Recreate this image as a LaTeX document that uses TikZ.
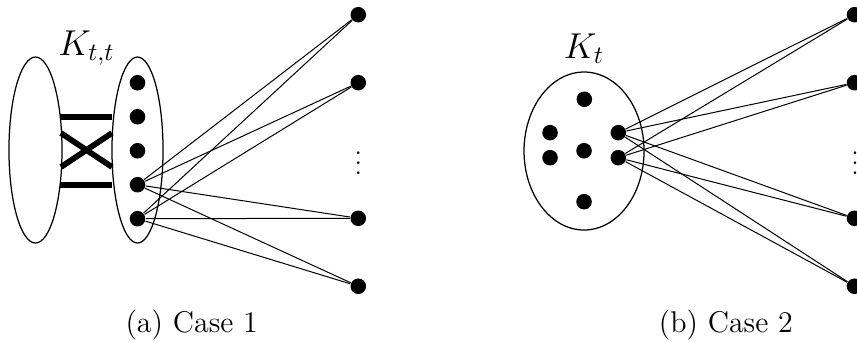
\documentclass[tikz,border=0pt]{standalone}
\usepackage{amsmath,amssymb}
\usepackage{tikz}
\usetikzlibrary{positioning,calc}
\tikzset{
  dot/.style={circle,fill=black,inner sep=2.2pt},
  part/.style={draw=black,line width=0.5pt},
  heavy/.style={draw=black,line width=2.3pt},
  lbl/.style={anchor=base,font=\Large},
  subcap/.style={anchor=base,font=\large},
}

\begin{document}
\begin{tikzpicture}[scale=1]
\useasboundingbox (0,0) rectangle (12.053,4.796);
% case 1
\draw[part] (0.499,2.686) ellipse (0.373 and 1.308);
\draw[part] (1.934,2.686) ellipse (0.359 and 1.308);
\coordinate (l1) at (0.847,3.155);
\coordinate (l2) at (0.857,2.925);
\coordinate (l3) at (0.857,2.447);
\coordinate (l4) at (0.847,2.194);
\coordinate (m1) at (1.575,3.155);
\coordinate (m2) at (1.575,2.925);
\coordinate (m3) at (1.575,2.447);
\coordinate (m4) at (1.575,2.194);
\draw[heavy] (l1)--(m1);
\draw[heavy] (l2)--(m3);
\draw[heavy] (l3)--(m2);
\draw[heavy] (l4)--(m4);
\node[dot] (a1) at (1.934,3.632) {};
\node[dot] (a2) at (1.934,3.154) {};
\node[dot] (a3) at (1.934,2.676) {};
\node[dot] (a4) at (1.934,2.198) {};
\node[dot] (a5) at (1.934,1.720) {};
\node[dot] (p1) at (5.039,4.589) {};
\node[dot] (p2) at (5.039,3.633) {};
\node[dot] (p3) at (5.039,1.726) {};
\node[dot] (p4) at (5.039,0.770) {};
\node (pd) at (5.039,2.600) {$\vdots$};
\draw (a4)--(p1); \draw (a4)--(p2); \draw (a4)--(p3); \draw (a4)--(p4);
\draw (a5)--(p1); \draw (a5)--(p2); \draw (a5)--(p3); \draw (a5)--(p4);
\node[lbl] (ktt) at (1.217,4.022) {$K_{t,t}$};
\node[subcap] (capa) at (2.696,0.113) {(a) Case 1};
% case 2
\draw[part] (8.214,2.672) ellipse (0.844 and 1.111);
\node[dot] (b1) at (8.218,3.400) {};
\node[dot] (b2) at (7.736,2.930) {};
\node[dot] (b3) at (8.214,2.676) {};
\node[dot] (b4) at (7.736,2.578) {};
\node[dot] (b5) at (8.214,1.959) {};
\node[dot] (b6) at (8.696,2.930) {};
\node[dot] (b7) at (8.696,2.578) {};
\node[dot] (q1) at (12.018,4.589) {};
\node[dot] (q2) at (12.018,3.633) {};
\node[dot] (q3) at (12.018,1.726) {};
\node[dot] (q4) at (12.018,0.770) {};
\node (qd) at (12.025,2.600) {$\vdots$};
\draw (b6)--(q1); \draw (b6)--(q2); \draw (b6)--(q3); \draw (b6)--(q4);
\draw (b7)--(q1); \draw (b7)--(q2); \draw (b7)--(q3); \draw (b7)--(q4);
\node[lbl] (kt) at (8.214,3.976) {$K_t$};
\node[subcap] (capb) at (10.208,0.113) {(b) Case 2};
\end{tikzpicture}
\end{document}
